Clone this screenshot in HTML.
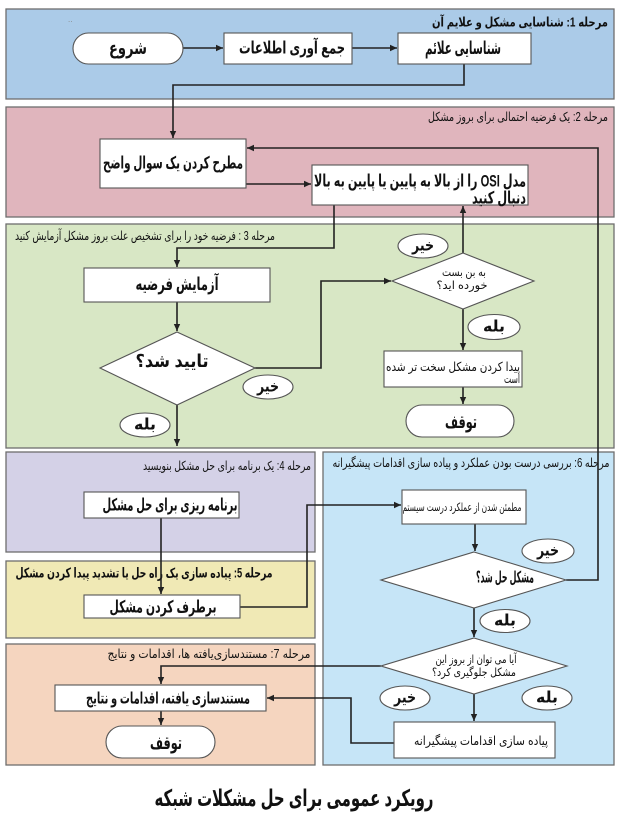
<!DOCTYPE html>
<html><head><meta charset="utf-8"><style>
html,body{margin:0;padding:0;background:#fff;}
svg{display:block;}
text{font-family:"Liberation Sans","DejaVu Sans",sans-serif;}
.b{font-weight:bold;}
</style></head><body>
<svg width="623" height="833" viewBox="0 0 623 833" xmlns="http://www.w3.org/2000/svg">
<defs>
<marker id="a" markerWidth="8" markerHeight="8" refX="7" refY="4" orient="auto" markerUnits="userSpaceOnUse">
<path d="M0,0.8 L7,4 L0,7.2 Z" fill="#222"/>
</marker>
</defs>
<rect width="623" height="833" fill="#fff"/>
<!-- panels -->
<rect x="6" y="9" width="608" height="90" fill="#abcbe8" stroke="#6e6e6e" stroke-width="1.3"/>
<rect x="6" y="107" width="608" height="110" fill="#e0b5bd" stroke="#6e6e6e" stroke-width="1.3"/>
<rect x="6" y="224" width="608" height="224" fill="#d8e7c5" stroke="#6e6e6e" stroke-width="1.3"/>
<rect x="6" y="452" width="309" height="100" fill="#d4d1e7" stroke="#6e6e6e" stroke-width="1.3"/>
<rect x="6" y="561" width="309" height="77" fill="#f0e9b5" stroke="#6e6e6e" stroke-width="1.3"/>
<rect x="6" y="644" width="309" height="121" fill="#f5d5bf" stroke="#6e6e6e" stroke-width="1.3"/>
<rect x="323" y="452" width="291" height="313" fill="#c6e5f7" stroke="#6e6e6e" stroke-width="1.3"/>

<text x="68" y="22" font-size="8" fill="#888">..</text>

<!-- panel labels -->
<text class="b" x="520" y="22" font-size="13" text-anchor="middle" dominant-baseline="central" direction="rtl" textLength="176" lengthAdjust="spacingAndGlyphs" fill="#111">مرحله 1:  شناسایی مشکل و علایم آن</text>
<text x="518" y="117" font-size="12.5" text-anchor="middle" dominant-baseline="central" direction="rtl" textLength="180" lengthAdjust="spacingAndGlyphs" fill="#111">مرحله 2: یک فرضیه احتمالی برای بروز مشکل</text>
<text x="145" y="236" font-size="12.5" text-anchor="middle" dominant-baseline="central" direction="rtl" textLength="260" lengthAdjust="spacingAndGlyphs" fill="#111">مرحله 3 : فرضیه خود را برای تشخیص علت بروز مشکل آزمایش کنید</text>
<text x="227" y="466" font-size="12.5" text-anchor="middle" dominant-baseline="central" direction="rtl" textLength="168" lengthAdjust="spacingAndGlyphs" fill="#111">مرحله 4: یک برنامه برای حل مشکل بنویسید</text>
<text class="b" x="144" y="573" font-size="13.5" text-anchor="middle" dominant-baseline="central" direction="rtl" textLength="257" lengthAdjust="spacingAndGlyphs" fill="#111">مرحله 5: پیاده سازی یک راه حل یا تشدید پیدا کردن مشکل</text>
<text x="471" y="463" font-size="12.5" text-anchor="middle" dominant-baseline="central" direction="rtl" textLength="277" lengthAdjust="spacingAndGlyphs" fill="#111">مرحله 6: بررسی درست بودن عملکرد و پیاده سازی اقدامات پیشگیرانه</text>
<text x="209" y="654" font-size="12.5" text-anchor="middle" dominant-baseline="central" direction="rtl" textLength="203" lengthAdjust="spacingAndGlyphs" fill="#111">مرحله 7: مستندسازی‌یافته ها، اقدامات و نتایج</text>

<!-- connectors -->
<g stroke="#222" stroke-width="1.6" fill="none">
<path d="M183,48 H223" marker-end="url(#a)"/>
<path d="M352,48 H397" marker-end="url(#a)"/>
<path d="M464,64 V85 H173 V138" marker-end="url(#a)"/>
<path d="M566,580 H598 V148 H247" marker-end="url(#a)"/>
<path d="M246,184 H311" marker-end="url(#a)"/>
<path d="M334,205 V248 H177 V267" marker-end="url(#a)"/>
<path d="M177,302 V331" marker-end="url(#a)"/>
<path d="M255,368 H321 V281 H391" marker-end="url(#a)"/>
<path d="M177,405 V446" marker-end="url(#a)"/>
<path d="M463,253 V206" marker-end="url(#a)"/>
<path d="M463,309 V350" marker-end="url(#a)"/>
<path d="M463,387 V404" marker-end="url(#a)"/>
<path d="M161,518 V594" marker-end="url(#a)"/>
<path d="M240,607 H307 V505 H401" marker-end="url(#a)"/>
<path d="M475,524 V551" marker-end="url(#a)"/>
<path d="M474,608 V637" marker-end="url(#a)"/>
<path d="M381,666 H161 V684" marker-end="url(#a)"/>
<path d="M161,711 V725" marker-end="url(#a)"/>
<path d="M474,694 V721" marker-end="url(#a)"/>
<path d="M394,743 H351 V698 H267" marker-end="url(#a)"/>
</g>

<!-- nodes -->
<g fill="#fff" stroke="#555" stroke-width="1.1">
<rect x="73" y="33" width="110" height="31" rx="15.5"/>
<rect x="224" y="33" width="128" height="31"/>
<rect x="398" y="33" width="133" height="31"/>
<rect x="100" y="139" width="146" height="49"/>
<rect x="312" y="165" width="216" height="40"/>
<rect x="84" y="268" width="186" height="34"/>
<polygon points="177,332 255,368 177,405 100,368"/>
<polygon points="463,253 534,281 463,309 392,281"/>
<rect x="384" y="351" width="138" height="36"/>
<rect x="406" y="405" width="108" height="32" rx="16"/>
<rect x="84" y="492" width="155" height="26"/>
<rect x="84" y="595" width="156" height="23"/>
<rect x="402" y="490" width="124" height="34"/>
<polygon points="474,552 566,580 474,608 381,580"/>
<polygon points="474,638 567,666 474,694 381,666"/>
<rect x="55" y="685" width="211" height="26"/>
<rect x="106" y="726" width="109" height="32" rx="16"/>
<rect x="394" y="722" width="161" height="36"/>
<ellipse cx="268" cy="387" rx="25" ry="12"/>
<ellipse cx="145" cy="425" rx="25" ry="12"/>
<ellipse cx="423" cy="246" rx="25" ry="12"/>
<ellipse cx="494" cy="327" rx="26" ry="12.5"/>
<ellipse cx="548" cy="551" rx="26" ry="12"/>
<ellipse cx="505" cy="621" rx="25" ry="11.5"/>
<ellipse cx="405" cy="698" rx="25" ry="12"/>
<ellipse cx="547" cy="698" rx="25" ry="12"/>
</g>

<!-- node text -->
<g fill="#111" text-anchor="middle" dominant-baseline="central" direction="rtl">
<text class="b" x="128" y="48" font-size="18" textLength="38" lengthAdjust="spacingAndGlyphs">شروع</text>
<text class="b" x="292" y="48" font-size="17" textLength="106" lengthAdjust="spacingAndGlyphs">جمع آوری اطلاعات</text>
<text class="b" x="463" y="48" font-size="18" textLength="76" lengthAdjust="spacingAndGlyphs">شناسایی علائم</text>
<text class="b" x="173" y="163" font-size="17" textLength="140" lengthAdjust="spacingAndGlyphs">مطرح کردن یک سوال واضح</text>
<text class="b" x="420" y="181" font-size="17" textLength="212" lengthAdjust="spacingAndGlyphs">مدل OSI را از بالا به پایین یا پایین به بالا</text>
<text class="b" x="499" y="198" font-size="17" textLength="54" lengthAdjust="spacingAndGlyphs">دنبال کنید</text>
<text class="b" x="177" y="284" font-size="18" textLength="83" lengthAdjust="spacingAndGlyphs">آزمایش فرضیه</text>
<text class="b" x="172" y="361" font-size="18" textLength="73" lengthAdjust="spacingAndGlyphs">تایید شد؟</text>
<text class="b" x="268" y="387" font-size="16" textLength="22" lengthAdjust="spacingAndGlyphs">خیر</text>
<text class="b" x="145" y="425" font-size="16" textLength="22" lengthAdjust="spacingAndGlyphs">بله</text>
<text class="b" x="423" y="246" font-size="16" textLength="22" lengthAdjust="spacingAndGlyphs">خیر</text>
<text class="b" x="494" y="327" font-size="16" textLength="22" lengthAdjust="spacingAndGlyphs">بله</text>
<text x="464" y="273" font-size="11.5" textLength="44" lengthAdjust="spacingAndGlyphs">به بن بست</text>
<text x="462" y="286" font-size="11.5" textLength="51" lengthAdjust="spacingAndGlyphs">خورده اید؟</text>
<text x="453" y="367" font-size="12.5" textLength="134" lengthAdjust="spacingAndGlyphs">پیدا کردن مشکل سخت تر شده</text>
<text x="512" y="379" font-size="12.5" textLength="16" lengthAdjust="spacingAndGlyphs">است</text>
<text class="b" x="461" y="422" font-size="18" textLength="32" lengthAdjust="spacingAndGlyphs">توقف</text>
<text class="b" x="170" y="505" font-size="17" textLength="135" lengthAdjust="spacingAndGlyphs">برنامه ریزی برای حل مشکل</text>
<text class="b" x="163" y="607" font-size="17" textLength="107" lengthAdjust="spacingAndGlyphs">برطرف کردن مشکل</text>
<text x="462" y="508" font-size="11.5" textLength="119" lengthAdjust="spacingAndGlyphs">مطمئن شدن از عملکرد درست سیستم</text>
<text class="b" x="505" y="578" font-size="16" textLength="58" lengthAdjust="spacingAndGlyphs">مشکل حل شد؟</text>
<text class="b" x="548" y="551" font-size="16" textLength="22" lengthAdjust="spacingAndGlyphs">خیر</text>
<text class="b" x="505" y="621" font-size="16" textLength="22" lengthAdjust="spacingAndGlyphs">بله</text>
<text x="476" y="660" font-size="11.5" textLength="81" lengthAdjust="spacingAndGlyphs">آیا می توان از بروز این</text>
<text x="474" y="673" font-size="11.5" textLength="84" lengthAdjust="spacingAndGlyphs">مشکل جلوگیری کرد؟</text>
<text class="b" x="405" y="698" font-size="16" textLength="22" lengthAdjust="spacingAndGlyphs">خیر</text>
<text class="b" x="547" y="698" font-size="16" textLength="22" lengthAdjust="spacingAndGlyphs">بله</text>
<text class="b" x="168" y="699" font-size="16" textLength="164" lengthAdjust="spacingAndGlyphs">مستندسازی یافته، اقدامات و نتایج</text>
<text class="b" x="166" y="743" font-size="18" textLength="32" lengthAdjust="spacingAndGlyphs">توقف</text>
<text x="481" y="741" font-size="12.5" textLength="134" lengthAdjust="spacingAndGlyphs">پیاده سازی اقدامات پیشگیرانه</text>
<text class="b" x="294" y="798" font-size="23" textLength="279" lengthAdjust="spacingAndGlyphs">رویکرد عمومی برای حل مشکلات شبکه</text>
</g>
</svg>
</body></html>
